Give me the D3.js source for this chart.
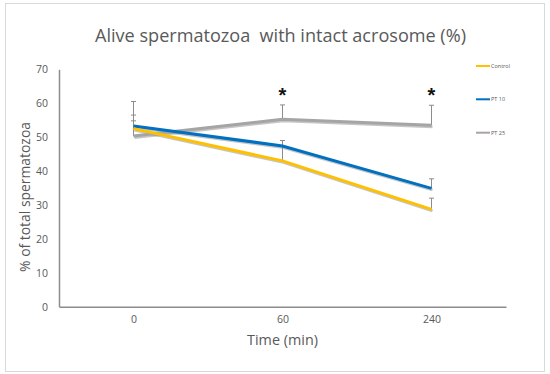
<!DOCTYPE html>
<html><head><meta charset="utf-8">
<script src="https://cdn.jsdelivr.net/npm/d3@7"></script>
<style>html,body{margin:0;padding:0;background:#fff;} svg{display:block;}</style>
</head><body>
<script>
const categories = ["0", "60", "240"];
const seriesNames = ["Control", "PT 10", "PT 25"];
const control = [52.5, 43.0, 28.7];
const controlErr = [2.3, 6.0, 3.3];
const pt10 = [53.3, 47.4, 34.9];
const pt10Err = [3.2, 1.6, 2.8];
const pt25 = [50.3, 55.3, 53.5];
const pt25Err = [10.2, 4.2, 5.9];
const yTicks = [0, 10, 20, 30, 40, 50, 60, 70];
const significant = ["60", "240"];

const W = 550, H = 374;
const colors = {"Control": "#FFC000", "PT 10": "#0070C0", "PT 25": "#A5A5A5"};
const series = [
  {name: "Control", values: control, err: controlErr},
  {name: "PT 10", values: pt10, err: pt10Err},
  {name: "PT 25", values: pt25, err: pt25Err}
];
const font = "'Open Sans', sans-serif";

const svg = d3.select("body").append("svg").attr("width", W).attr("height", H);
svg.append("rect").attr("x", 5.5).attr("y", 3.5).attr("width", 539).attr("height", 368)
  .attr("fill", "#fff").attr("stroke", "#d9d9d9").attr("stroke-width", 1);

const x = d3.scalePoint().domain(categories).range([59, 506]).padding(0.5);
const y = d3.scaleLinear().domain([0, 70]).range([306.7, 69.3]);

// y axis
const yAxis = svg.append("g").attr("transform", "translate(59,0)")
  .call(d3.axisLeft(y).tickValues(yTicks).tickSize(0).tickPadding(11));
yAxis.select(".domain").attr("stroke", "#8c8c8c").attr("stroke-width", 1.5);
yAxis.selectAll("text").attr("font-family", font).attr("font-size", 10.5).attr("fill", "#595959");

// x axis
const xAxis = svg.append("g").attr("transform", "translate(0,306.7)")
  .call(d3.axisBottom(x).tickSize(0).tickPadding(9));
xAxis.select(".domain").attr("stroke", "#8c8c8c").attr("stroke-width", 1.5);
xAxis.selectAll("text").attr("font-family", font).attr("font-size", 10.5).attr("fill", "#595959");

// error bars
series.forEach(s => {
  const g = svg.append("g");
  categories.forEach((c, i) => {
    const cx = x(c), y0 = y(s.values[i]), y1 = y(s.values[i] + s.err[i]);
    g.append("line").attr("x1", cx).attr("x2", cx).attr("y1", y0).attr("y2", y1)
      .attr("stroke", "#8c8c8c").attr("stroke-width", 1);
    g.append("line").attr("x1", cx - 2.5).attr("x2", cx + 2.5).attr("y1", y1).attr("y2", y1)
      .attr("stroke", "#8c8c8c").attr("stroke-width", 1);
  });
});

// lines with shadow
const line = d3.line().x((d, i) => x(categories[i])).y(d => y(d));
const drawOrder = [series[2], series[1], series[0]];
drawOrder.forEach(s => {
  svg.append("path").datum(s.values).attr("d", line)
    .attr("transform", "translate(1,1.5)")
    .attr("fill", "none").attr("stroke", "#7f7f7f").attr("stroke-opacity", 0.45)
    .attr("stroke-width", 3);
});
drawOrder.forEach(s => {
  svg.append("path").datum(s.values).attr("d", line)
    .attr("fill", "none").attr("stroke", colors[s.name]).attr("stroke-width", 3);
});

// asterisks
significant.forEach(c => {
  const i = categories.indexOf(c);
  const top = y(pt25[i] + pt25Err[i]);
  svg.append("text").attr("x", x(c)).attr("y", top - 4 + (c === "240" ? 0 : 0))
    .attr("text-anchor", "middle").attr("font-family", "'Liberation Sans', sans-serif")
    .attr("font-size", 20).attr("font-weight", "bold").attr("fill", "#111")
    .attr("dy", "0.05em").text("*");
});

// legend
const legY = [66, 99.3, 132.7];
seriesNames.forEach((n, i) => {
  svg.append("line").attr("x1", 476).attr("x2", 490).attr("y1", legY[i]).attr("y2", legY[i])
    .attr("stroke", colors[n]).attr("stroke-width", 2);
  svg.append("text").attr("x", 491).attr("y", legY[i]).attr("dy", "0.35em")
    .attr("font-family", font).attr("font-size", 5.5).attr("fill", "#595959").text(n);
});

// title
const title = svg.append("text").attr("x", 280.5).attr("y", 42).attr("text-anchor", "middle")
  .attr("font-family", font).attr("font-size", 19).attr("fill", "#595959")
  .attr("xml:space", "preserve").style("white-space", "pre")
  .text("Alive spermatozoa  with intact acrosome (%)");
const tw = title.node().getComputedTextLength();
title.attr("font-size", 19 * 371 / tw);

// axis titles
const xt = svg.append("text").attr("x", 282.5).attr("y", 345).attr("text-anchor", "middle")
  .attr("font-family", font).attr("font-size", 14.5).attr("fill", "#595959").text("Time (min)");
const xw = xt.node().getComputedTextLength();
xt.attr("font-size", 14.5 * 71 / xw);

const yt = svg.append("text").attr("transform", "translate(30,197) rotate(-90)")
  .attr("text-anchor", "middle").attr("font-family", font).attr("font-size", 14.5)
  .attr("fill", "#595959").text("% of total spermatozoa");
const yw = yt.node().getComputedTextLength();
yt.attr("font-size", 14.5 * 150 / yw);
</script>
</body></html>
